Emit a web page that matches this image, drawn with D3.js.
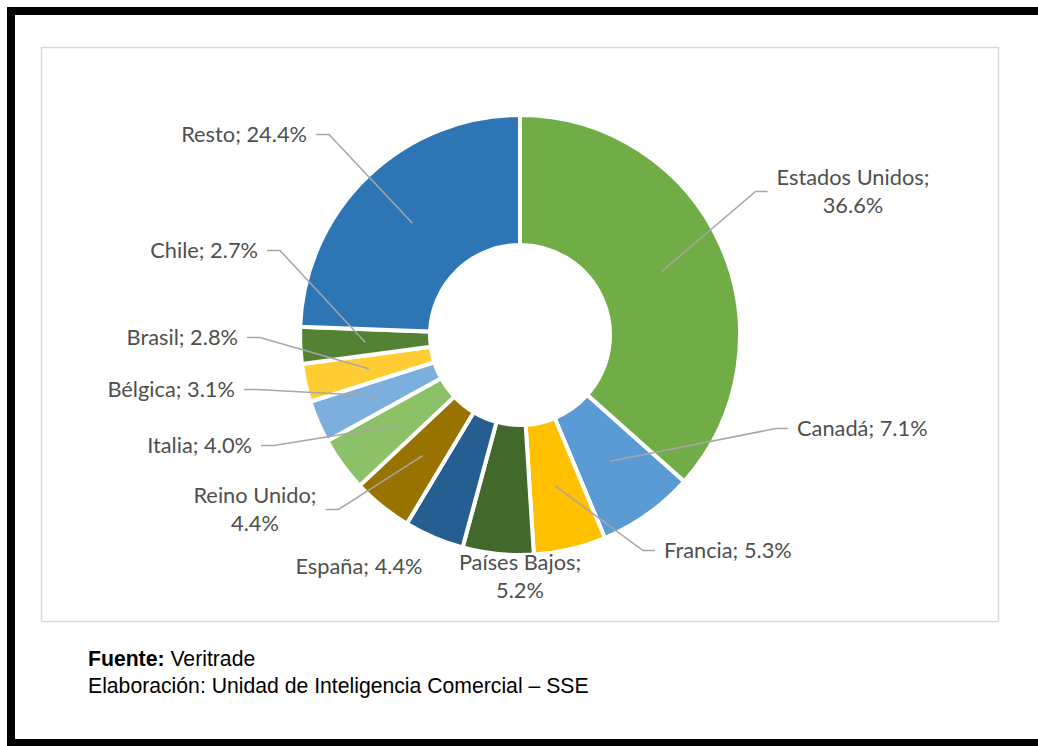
<!DOCTYPE html>
<html>
<head>
<meta charset="utf-8">
<script src="https://cdn.jsdelivr.net/npm/d3@7"></script>
<style>
    body { margin: 0; background: #fff; }
    svg { display: block; }
</style>
</head>
<body>
<div id="content"></div>
<script>
// data
const countries = ["Estados Unidos", "Canadá", "Francia", "Países Bajos", "España", "Reino Unido",
    "Italia", "Bélgica", "Brasil", "Chile", "Resto"];
const shares = [36.6, 7.1, 5.3, 5.2, 4.4, 4.4, 4.0, 3.1, 2.8, 2.7, 24.4];
const colors = ["#70AD47", "#5B9BD5", "#FFC000", "#43682B", "#255E91", "#997300",
    "#8CC168", "#7CAFDD", "#FFCD33", "#548235", "#2E75B6"];

// label placement (Excel-style manual layout): text anchor, lines, leader side
const labelLayout = [
    { x: 853, y: 185, anchor: "middle", split: true, leader: "right" },
    { x: 797, y: 436, anchor: "start", split: false, leader: "right" },
    { x: 664, y: 558, anchor: "start", split: false, leader: "right" },
    { x: 520, y: 570, anchor: "middle", split: true, leader: null },
    { x: 359, y: 574, anchor: "middle", split: false, leader: null },
    { x: 255, y: 503, anchor: "middle", split: true, leader: "left" },
    { x: 252, y: 453, anchor: "end", split: false, leader: "left" },
    { x: 235, y: 397, anchor: "end", split: false, leader: "left" },
    { x: 238, y: 345, anchor: "end", split: false, leader: "left" },
    { x: 258, y: 258, anchor: "end", split: false, leader: "left" },
    { x: 307, y: 142, anchor: "end", split: false, leader: "left" },
];

const width = 1038, height = 746;
const cx = 520, cy = 335;
const rInner = 90, rOuter = 220;
const lineH = 28;

const svg = d3.select("#content").append("svg")
    .attr("width", width).attr("height", height);

// black frame of the scanned page
svg.append("rect").attr("x", 7).attr("y", 7).attr("width", width - 7).attr("height", 8).attr("fill", "#000");
svg.append("rect").attr("x", 7).attr("y", 7).attr("width", 8).attr("height", height - 7).attr("fill", "#000");
svg.append("rect").attr("x", 7).attr("y", 739).attr("width", width - 7).attr("height", 7).attr("fill", "#000");

// chart area border
svg.append("rect")
    .attr("x", 41.5).attr("y", 47.5).attr("width", 957).attr("height", 574)
    .attr("fill", "#fff").attr("stroke", "#D9D9D9").attr("stroke-width", 1.5);

const data = countries.map((c, i) => ({ name: c, value: shares[i], color: colors[i], layout: labelLayout[i] }));

const pie = d3.pie().value(d => d.value).sort(null);
const arc = d3.arc().innerRadius(rInner).outerRadius(rOuter);
const arcs = pie(data);

const g = svg.append("g").attr("transform", `translate(${cx},${cy})`);

g.selectAll("path.slice")
    .data(arcs)
    .enter()
    .append("path")
    .attr("class", "slice")
    .attr("d", arc)
    .attr("fill", d => d.data.color)
    .attr("stroke", "#fff")
    .attr("stroke-width", 4)
    .attr("stroke-linejoin", "miter");

const fmt = v => v.toFixed(1) + "%";

const labels = svg.append("g")
    .attr("font-family", "Lato, 'Open Sans', sans-serif")
    .attr("font-size", 21.8)
    .attr("fill", "#4F4F4F");

const capH = 15;

arcs.forEach(a => {
    const L = a.data.layout;
    const txt = labels.append("text")
        .attr("x", L.x).attr("y", L.y)
        .attr("text-anchor", L.anchor);
    let nLines = 1;
    if (L.split) {
        txt.append("tspan").attr("x", L.x).attr("y", L.y).text(a.data.name + ";");
        txt.append("tspan").attr("x", L.x).attr("y", L.y + lineH).text(fmt(a.data.value));
        nLines = 2;
    } else {
        txt.text(a.data.name + "; " + fmt(a.data.value));
    }
    if (!L.leader) return;

    const bb = txt.node().getBBox();
    const midY = (L.y - capH + L.y + (nLines - 1) * lineH) / 2;
    const [px, py] = arc.centroid(a);
    let endX, elbowX;
    if (L.leader === "left") {
        endX = bb.x + bb.width + 9;
        elbowX = endX + 13;
    } else {
        endX = bb.x - 9;
        elbowX = endX - 12;
    }
    svg.append("polyline")
        .attr("points", [[cx + px, cy + py], [elbowX, midY], [endX, midY]].map(p => p.join(",")).join(" "))
        .attr("fill", "none")
        .attr("stroke", "#A6A6A6")
        .attr("stroke-width", 1.5);
});

// source notes
const notes = svg.append("g")
    .attr("font-family", "'Liberation Sans', Arial, sans-serif")
    .attr("font-size", 21.2)
    .attr("fill", "#000");

const n1 = notes.append("text").attr("x", 88).attr("y", 666);
n1.append("tspan").attr("font-weight", "bold").text("Fuente:");
n1.append("tspan").text(" Veritrade");
notes.append("text").attr("x", 88).attr("y", 693)
    .text("Elaboración: Unidad de Inteligencia Comercial – SSE");
</script>
</body>
</html>
